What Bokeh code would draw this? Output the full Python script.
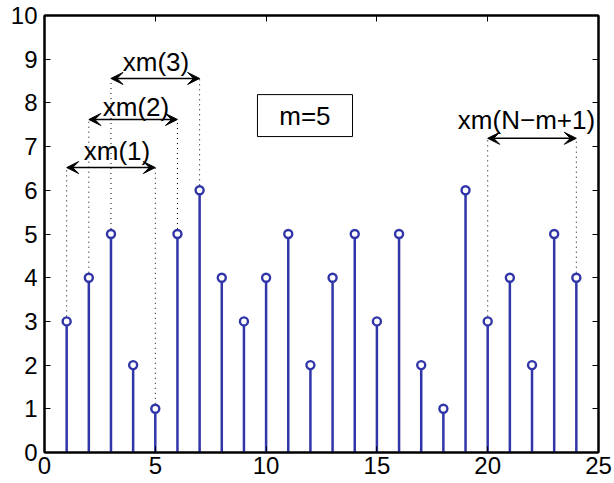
from bokeh.plotting import figure
from bokeh.models import Range1d, LinearAxis, Arrow, VeeHead, FixedTicker
from bokeh.embed import file_html
from bokeh.resources import INLINE
from bokeh.core.properties import value

# data
n = list(range(1, 25))
xs = [3, 4, 5, 2, 1, 5, 6, 4, 3, 4, 5, 2, 4, 5, 3, 5, 2, 1, 6, 3, 4, 2, 5, 4]
x_ticks = [0, 5, 10, 15, 20, 25]
y_ticks = list(range(0, 11))

# annotation windows: (start index, end index, arrow height, label)
win_start = [1, 2, 3, 20]
win_end = [5, 6, 7, 24]
win_level = [6.52, 7.62, 8.56, 7.19]
win_label = ["xm(1)", "xm(2)", "xm(3)", "xm(N\u2212m+1)"]
win_label_x = [3.27, 4.13, 5.03, 21.75]
win_label_y = [6.9, 7.9, 8.93, 7.6]

FONT = "Liberation Sans"
BLUE = "#3035a8"

p = figure(width=614, height=483, output_backend="svg", toolbar_location=None,
           x_range=Range1d(0, 25), y_range=Range1d(0, 10),
           min_border_left=44, min_border_right=16, min_border_top=15, min_border_bottom=31)
p.background_fill_color = "white"
p.border_fill_color = "white"
p.outline_line_color = "black"
p.outline_line_width = 2
p.grid.visible = False

def style_axis(ax, ticks, labels=True):
    ax.ticker = FixedTicker(ticks=ticks)
    ax.axis_line_color = "black"
    ax.axis_line_width = 2
    ax.major_tick_in = 6
    ax.major_tick_out = 0
    ax.major_tick_line_color = "black"
    ax.major_tick_line_width = 1
    ax.minor_tick_line_color = None
    if labels:
        ax.major_label_text_font = FONT
        ax.major_label_text_font_size = "24px"
        ax.major_label_text_color = "black"
    else:
        ax.major_label_text_color = None
        ax.major_label_text_font_size = "1px"
        ax.major_label_standoff = 0

style_axis(p.xaxis[0], x_ticks)
style_axis(p.yaxis[0], y_ticks)
p.xaxis[0].major_label_standoff = 4
p.yaxis[0].major_label_standoff = 7

top = LinearAxis()
style_axis(top, x_ticks, labels=False)
p.add_layout(top, "above")
right = LinearAxis()
style_axis(right, y_ticks, labels=False)
p.add_layout(right, "right")

# dotted guide lines
dx, dy0, dy1 = [], [], []
for s, e, lev in zip(win_start, win_end, win_level):
    for k in (s, e):
        dx.append(k)
        dy0.append(xs[k - 1])
        dy1.append(lev)
p.segment(x0=dx, y0=dy0, x1=dx, y1=dy1, line_color="black", line_width=1, line_dash="1 4")

# stems
p.segment(x0=n, y0=[0] * len(n), x1=n, y1=xs, line_color=BLUE, line_width=2.5)
p.scatter(n, xs, marker="circle", size=8, line_color=BLUE, line_width=2.4, fill_color="white")

# arrows
for s, e, lev in zip(win_start, win_end, win_level):
    p.add_layout(Arrow(x_start=s, y_start=lev, x_end=e, y_end=lev,
                       line_color="black", line_width=1.5,
                       start=VeeHead(size=12, fill_color="black", line_color="black", line_width=1),
                       end=VeeHead(size=12, fill_color="black", line_color="black", line_width=1)))

p.text(x=win_label_x, y=win_label_y, text=win_label, text_font=value(FONT),
       text_font_size="26px", text_align="center", text_baseline="middle", text_color="black")

# m=5 box
p.quad(left=[9.61], right=[13.9], bottom=[7.23], top=[8.19], fill_color="white",
       line_color="black", line_width=1)
p.text(x=[11.75], y=[7.71], text=["m=5"], text_font=value(FONT), text_font_size="26px",
       text_align="center", text_baseline="middle", text_color="black")

open("out.html", "w").write(file_html(p, INLINE))
